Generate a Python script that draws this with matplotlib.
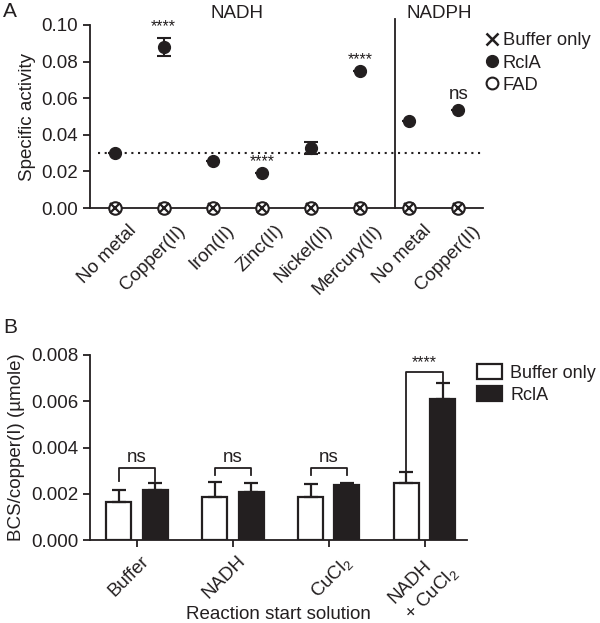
import matplotlib.pyplot as plt
import numpy as np
from matplotlib.lines import Line2D
from matplotlib.patches import Patch
from matplotlib.transforms import ScaledTranslation

plt.rcParams['font.family'] = ['Liberation Sans', 'DejaVu Sans']
plt.rcParams['mathtext.default'] = 'regular'
ink = '#231f20'

# Panel A: specific activity per metal
metals = ['No metal', 'Copper(II)', 'Iron(II)', 'Zinc(II)', 'Nickel(II)',
          'Mercury(II)', 'No metal', 'Copper(II)']
rcla_activity = [0.030, 0.088, 0.0256, 0.019, 0.0328, 0.0751, 0.0476, 0.0536]
rcla_err = [0.0, 0.0051, 0.0, 0.0, 0.0032, 0.0, 0.0, 0.0]
buffer_activity = [0, 0, 0, 0, 0, 0, 0, 0]
fad_activity = [0, 0, 0, 0, 0, 0, 0, 0]
a_marks = ['', '****', '', '****', '', '****', '', 'ns']
baseline = 0.03

# Panel B: BCS/copper(I)
solutions = ['Buffer', 'NADH', 'CuCl$_2$', 'NADH\n+ CuCl$_2$']
buffer_bcs = [0.00165, 0.00184, 0.00184, 0.00246]
buffer_bcs_err = [0.0005, 0.00067, 0.00057, 0.0005]
rcla_bcs = [0.00217, 0.00206, 0.00237, 0.00611]
rcla_bcs_err = [0.0003, 0.00042, 0.00011, 0.0007]
b_marks = ['ns', 'ns', 'ns', '****']
bracket_y = [0.0031, 0.0031, 0.0031, 0.00728]
leg_left = [0.00255, 0.0028, 0.0028, 0.0030]
leg_right = [0.00255, 0.0028, 0.0028, 0.0068]

fs = 13.5
fig = plt.figure(figsize=(6, 6.23), dpi=100)
px = 1 / 100.0

# ---------- Panel A ----------
ax = fig.add_axes([0.15, 0.666, 0.655, 0.294])
x = np.arange(len(metals))
ax.axhline(baseline, xmin=0.02, xmax=1, color=ink, lw=1.5, ls=(0, (1, 2.2)))
ax.plot([5.7, 5.7], [0, 0.1035], color=ink, lw=1.3, clip_on=False)
ax.errorbar(x, rcla_activity, yerr=rcla_err, fmt='o', ms=8.5, color=ink,
            ecolor=ink, elinewidth=1.5, capsize=5, capthick=1.5, zorder=4)
ax.plot(x, fad_activity, 'o', ms=9, mfc='white', mec=ink, mew=1.5,
        clip_on=False, zorder=5)
ax.plot(x, buffer_activity, 'x', ms=7, mec=ink, mew=1.6, clip_on=False, zorder=6)
for xi, v, e, m in zip(x, rcla_activity, rcla_err, a_marks):
    if m == '****':
        ax.text(xi, v + e + 0.002, m, ha='center', va='bottom', fontsize=11.5, color=ink)
    elif m:
        ax.text(xi, v + e + 0.004, m, ha='center', va='bottom', fontsize=fs, color=ink)

ax.set_xlim(-0.5, 7.5)
ax.set_ylim(0, 0.1)
ax.set_yticks([0, 0.02, 0.04, 0.06, 0.08, 0.10])
ax.set_yticklabels(['%.2f' % v for v in [0, 0.02, 0.04, 0.06, 0.08, 0.10]])
ax.set_xticks(x)
ax.set_xticklabels(metals, rotation=45, ha='right', rotation_mode='anchor')
ax.tick_params(axis='x', length=0, pad=10, labelsize=fs, colors=ink)
ax.tick_params(axis='y', length=5, width=1.3, labelsize=fs, colors=ink)
for lab in ax.get_xticklabels():
    lab.set_transform(lab.get_transform() + ScaledTranslation(13 * px, 0, fig.dpi_scale_trans))
ax.set_ylabel('Specific activity', fontsize=fs, color=ink, labelpad=4)
for s in ['top', 'right']:
    ax.spines[s].set_visible(False)
for s in ['left', 'bottom']:
    ax.spines[s].set_linewidth(1.3)
    ax.spines[s].set_color(ink)

tr = ax.get_xaxis_transform()
ax.text(2.5, 1.065, 'NADH', transform=tr, ha='center', va='center', fontsize=fs, color=ink)
ax.text(6.6, 1.065, 'NADPH', transform=tr, ha='center', va='center', fontsize=fs, color=ink)

a_handles = [
    Line2D([], [], ls='none', marker='x', ms=8, mec=ink, mew=1.8),
    Line2D([], [], ls='none', marker='o', ms=8.5, color=ink),
    Line2D([], [], ls='none', marker='o', ms=8.5, mfc='white', mec=ink, mew=1.5),
]
ax.legend(a_handles, ['Buffer only', 'RclA', 'FAD'], loc='upper left',
          bbox_to_anchor=(0.81, 0.948), bbox_transform=fig.transFigure,
          frameon=False, fontsize=13.2, handlelength=0.7, handletextpad=0.2,
          labelspacing=0.28, borderpad=0, borderaxespad=0, labelcolor=ink)

# ---------- Panel B ----------
bx = fig.add_axes([0.15, 0.1332, 0.628, 0.297])
xb = np.arange(len(solutions))
w = 0.26
bx.bar(xb - 0.19, buffer_bcs, w, color='white', edgecolor=ink, lw=1.6,
       yerr=[np.zeros(4), buffer_bcs_err], error_kw=dict(ecolor=ink, elinewidth=1.6,
       capsize=5, capthick=1.6), label='Buffer only', zorder=3)
bx.bar(xb + 0.19, rcla_bcs, w, color=ink, edgecolor=ink, lw=1.6,
       yerr=[np.zeros(4), rcla_bcs_err], error_kw=dict(ecolor=ink, elinewidth=1.6,
       capsize=5, capthick=1.6), label='RclA', zorder=3)
for xi, by, ll, lr, m in zip(xb, bracket_y, leg_left, leg_right, b_marks):
    bx.plot([xi - 0.19, xi - 0.19, xi + 0.19, xi + 0.19], [ll, by, by, lr],
            color=ink, lw=1.3)
    if m == 'ns':
        bx.text(xi, by + 0.0001, m, ha='center', va='bottom', fontsize=fs, color=ink)
    else:
        bx.text(xi, by + 0.00005, m, ha='center', va='bottom', fontsize=11.5, color=ink)

bx.set_xlim(-0.49, 3.44)
bx.set_ylim(0, 0.008)
bticks = [0, 0.002, 0.004, 0.006, 0.008]
bx.set_yticks(bticks)
bx.set_yticklabels(['%.3f' % v for v in bticks])
bx.set_xticks(xb)
bx.set_xticklabels(solutions, rotation=45, ha='right', rotation_mode='anchor',
                   linespacing=1.3, multialignment='left')
bx.tick_params(axis='x', length=5, width=1.3, pad=4, labelsize=fs, colors=ink)
bx.tick_params(axis='y', length=5, width=1.3, labelsize=fs, colors=ink)
shifts = [(3, 0), (4, 0), (14, 0), (8, 5)]
for lab, (dx, dy) in zip(bx.get_xticklabels(), shifts):
    lab.set_transform(lab.get_transform() + ScaledTranslation(dx * px, dy * px, fig.dpi_scale_trans))
bx.set_ylabel('BCS/copper(I) (µmole)', fontsize=fs, color=ink, labelpad=4)
bx.set_xlabel('Reaction start solution', fontsize=fs, color=ink)
bx.xaxis.set_label_coords(0.5, -0.355)
for s in ['top', 'right']:
    bx.spines[s].set_visible(False)
for s in ['left', 'bottom']:
    bx.spines[s].set_linewidth(1.3)
    bx.spines[s].set_color(ink)

b_handles = [Patch(facecolor='white', edgecolor=ink, lw=1.6),
             Patch(facecolor=ink, edgecolor=ink, lw=1.6)]
bx.legend(b_handles, ['Buffer only', 'RclA'], loc='upper left',
          bbox_to_anchor=(0.795, 0.415), bbox_transform=fig.transFigure,
          frameon=False, fontsize=13, handlelength=1.4, handleheight=0.85,
          handletextpad=0.45, labelspacing=0.25, borderpad=0, borderaxespad=0,
          labelcolor=ink)

fig.text(0.005, 0.982, 'A', fontsize=15, color=ink, va='center', ha='left')
fig.text(0.005, 0.475, 'B', fontsize=15, color=ink, va='center', ha='left')

fig.savefig('out.png', dpi=100)
